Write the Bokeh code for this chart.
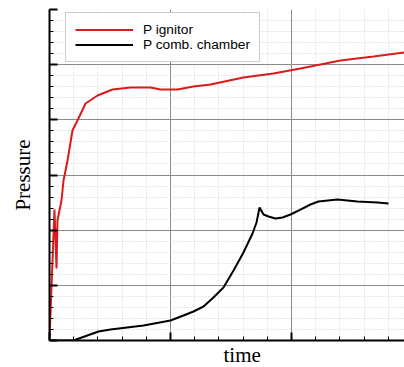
from bokeh.plotting import figure
from bokeh.models import (Range1d, SingleIntervalTicker, Legend, LegendItem, Title,
                          CustomJSTickFormatter)
from bokeh.embed import file_html
from bokeh.resources import INLINE

# P ignitor (red)
ign_t = [0.0, 0.041, 0.058, 0.066, 0.099, 0.116, 0.149, 0.190, 0.231, 0.298, 0.397,
         0.521, 0.669, 0.835, 0.917, 1.058, 1.190, 1.331, 1.603, 1.851, 2.074, 2.405,
         2.678, 2.934]
ign_p = [0.0, 2.374, 1.305, 2.175, 2.538, 2.900, 3.263, 3.806, 3.988, 4.296, 4.441,
         4.550, 4.586, 4.586, 4.550, 4.550, 4.604, 4.640, 4.767, 4.840, 4.930, 5.075,
         5.148, 5.220]

# P comb. chamber (black)
cc_t = [0.0, 0.198, 0.405, 0.504, 0.777, 1.0, 1.107, 1.190, 1.273, 1.355, 1.438,
        1.521, 1.603, 1.678, 1.711, 1.736, 1.769, 1.810, 1.868, 1.926, 1.992, 2.074,
        2.157, 2.223, 2.380, 2.545, 2.711, 2.802]
cc_p = [0.0, 0.0, 0.163, 0.199, 0.272, 0.363, 0.453, 0.526, 0.616, 0.779, 0.961,
        1.269, 1.595, 1.939, 2.139, 2.411, 2.284, 2.248, 2.211, 2.229, 2.284, 2.374,
        2.465, 2.519, 2.556, 2.519, 2.501, 2.483]

series_names = ["P ignitor", "P comb. chamber"]
x_label = "time"
y_label = "Pressure"

p = figure(width=404, height=367, output_backend="svg", toolbar_location=None,
           x_range=Range1d(0, 2.934), y_range=Range1d(0, 6),
           min_border_left=49, min_border_right=0, min_border_top=9, min_border_bottom=0)
p.outline_line_color = None
p.background_fill_color = "white"
p.border_fill_color = "white"

for ax in (p.xaxis, p.yaxis):
    ax.ticker = SingleIntervalTicker(interval=1, num_minor_ticks=5)
    ax.formatter = CustomJSTickFormatter(code="return ''")
    ax.major_label_standoff = 0
    ax.axis_line_width = 2
    ax.axis_line_color = "black"
    ax.major_tick_in = 8
    ax.major_tick_out = 0
    ax.major_tick_line_width = 2
    ax.minor_tick_in = 4
    ax.minor_tick_out = 0
    ax.minor_tick_line_width = 1

p.yaxis.axis_label = y_label
p.yaxis.axis_label_standoff = 15
p.yaxis.axis_label_text_font = "Liberation Serif"
p.yaxis.axis_label_text_font_size = "21px"
p.yaxis.axis_label_text_font_style = "normal"
p.yaxis.axis_label_text_color = "black"

for g in (p.xgrid, p.ygrid):
    g.grid_line_color = "#8a8a8a"
    g.grid_line_width = 1
    g.minor_grid_line_color = "#cfcfcf"
    g.minor_grid_line_dash = "1 2"
    g.minor_grid_line_width = 1

r1 = p.line(ign_t, ign_p, line_color="#dd1a1a", line_width=2)
r2 = p.line(cc_t, cc_p, line_color="black", line_width=2)

legend = Legend(items=[LegendItem(label=series_names[0], renderers=[r1]),
                       LegendItem(label=series_names[1], renderers=[r2])],
                location=(16, 278))
legend.padding = 9
legend.spacing = 0
legend.glyph_width = 58
legend.glyph_height = 15
legend.label_height = 15
legend.label_standoff = 10
legend.label_text_font = "Liberation Sans"
legend.label_text_font_size = "13.7px"
legend.label_text_color = "black"
legend.border_line_color = "#999999"
legend.border_line_width = 1
legend.background_fill_color = "white"
legend.background_fill_alpha = 1.0
legend.margin = 0
p.add_layout(legend)

p.add_layout(Title(text=x_label, align="left", offset=174, standoff=1,
                   text_font="Liberation Serif", text_font_size="21px",
                   text_font_style="normal", text_color="black"), "below")

open("out.html", "w").write(file_html(p, INLINE))
